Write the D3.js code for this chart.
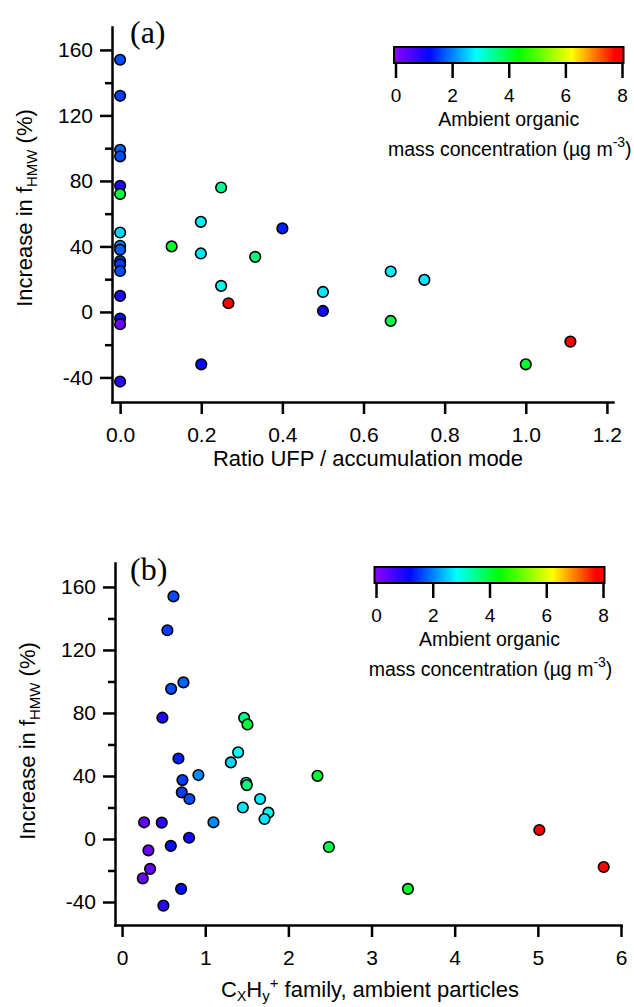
<!DOCTYPE html>
<html>
<head>
<meta charset="utf-8">
<script src="https://cdnjs.cloudflare.com/ajax/libs/d3/7.8.5/d3.min.js"></script>
<style>
  body { margin: 0; background: #fff; }
  svg text { font-family: Arial, "Liberation Sans", sans-serif; fill: #000; }
  .axis path, .axis line { stroke: #000; stroke-width: 2.5; }
</style>
</head>
<body>
<div id="chart"></div>
<script>
// Panel (a): ratio UFP / accumulation mode vs increase in f_HMW
var ufpRatioA = [0, 0, 0, 0, 0, 0, 0, 0, 0, 0, 0, 0, 0, 0, 0, 0,
                 0.249, 0.199, 0.4, 0.127, 0.199, 0.333, 0.249, 0.267, 0.2,
                 0.5, 0.5, 0.667, 0.75, 0.667, 1.0, 1.11];
var increaseA = [154, 132, 99, 95, 77, 72, 48.5, 40.4, 38, 31, 29, 25, 9.8, -4, -7.5, -42.5,
                 76, 55, 51, 40, 35.7, 33.6, 15.9, 5.3, -32,
                 12.2, 0.6, 24.7, 19.6, -5.5, -32, -18.1];
var organicA = [1.7, 1.6, 1.85, 1.7, 1.0, 4.0, 2.6, 2.1, 1.8, 1.6, 1.6, 1.7, 1.0, 1.3, 0.3, 0.9,
                3.5, 2.75, 1.4, 4.1, 2.7, 3.6, 3.0, 7.9, 1.2,
                2.7, 1.1, 2.75, 2.7, 3.9, 4.1, 7.9];

// Panel (b): CxHy+ family vs increase in f_HMW
var cxhyB = [0.618, 0.545, 0.738, 0.59, 0.485, 1.468, 1.508, 0.678, 0.918, 0.726, 0.718, 0.81,
             0.265, 0.477, 1.099, 0.806, 0.586, 0.317, 0.337, 0.249, 0.71, 0.497,
             1.396, 1.308, 1.492, 1.5, 1.66, 1.452, 1.76, 1.713,
             2.35, 2.487, 3.438, 5.018, 5.792];
var increaseB = [154, 132.5, 99.4, 95.3, 77, 76.9, 72.7, 51.1, 40.6, 37.4, 29.6, 25.4,
                 10.6, 10.4, 10.6, 0.8, -4.4, -7.2, -19, -25, -31.7, -42.3,
                 55, 48.6, 35.7, 34.2, 25.4, 20, 16.7, 12.7,
                 40.1, -5.1, -31.7, 5.7, -17.8];
var organicB = [1.7, 1.6, 1.85, 1.7, 1.0, 3.5, 4.0, 1.4, 2.1, 1.6, 1.6, 1.7,
                0.35, 0.9, 2.1, 1.1, 1.3, 0.3, 0.35, 0.3, 1.2, 0.9,
                2.85, 2.6, 2.75, 3.6, 2.75, 2.7, 3.0, 2.7,
                4.1, 3.9, 4.1, 7.9, 7.9];

// tick values
var yMajorTicks = [-40, 0, 40, 80, 120, 160];
var yMinorTicks = [-20, 20, 60, 100, 140];
var xTicksA = [0, 0.2, 0.4, 0.6, 0.8, 1.0, 1.2];
var xTicksB = [0, 1, 2, 3, 4, 5, 6];
var colorTicks = [0, 2, 4, 6, 8];

// rainbow colour table (violet -> red)
var colorStops = [0, 1.25, 2.85, 4.35, 6.2, 7.7, 8];
var colorValues = ["#8f00ff", "#0008ff", "#00ffff", "#00ff00", "#ffff00", "#ff0000", "#ff0000"];
var color = d3.scaleLinear().domain(colorStops).range(colorValues).clamp(true);

var svg = d3.select("#chart").append("svg")
    .attr("width", 634)
    .attr("height", 1007);

var defs = svg.append("defs");
var grad = defs.append("linearGradient")
    .attr("id", "rainbow")
    .attr("x1", "0%").attr("x2", "100%").attr("y1", "0%").attr("y2", "0%");
grad.selectAll("stop")
    .data(colorStops)
  .enter().append("stop")
    .attr("offset", function (d) { return (d / 8 * 100) + "%"; })
    .attr("stop-color", function (d) { return color(d); });

// plain hyphen for negatives, as in the original figure
function hyphenFormat(fmt) {
  return function (d) { return fmt(d).replace("\u2212", "-"); };
}

function panel(opts) {
  var xScale = d3.scaleLinear().domain(opts.xDomain).range(opts.xRange),
      yScale = d3.scaleLinear().domain(opts.yDomain).range(opts.yRange),
      xAxisY = opts.yRange[0],
      yAxisX = opts.xRange[0];

  var g = svg.append("g");

  // minor y ticks
  g.append("g")
      .attr("class", "axis")
      .attr("transform", "translate(" + yAxisX + ",0)")
      .call(d3.axisLeft(yScale).tickValues(yMinorTicks).tickSize(7).tickFormat(""))
      .call(function (s) { s.select(".domain").remove(); });

  var yAxis = g.append("g")
      .attr("class", "axis")
      .attr("transform", "translate(" + yAxisX + ",0)")
      .call(d3.axisLeft(yScale).tickValues(yMajorTicks).tickSize(12).tickSizeOuter(0).tickPadding(7)
              .tickFormat(hyphenFormat(d3.format("d"))));
  yAxis.selectAll("text").style("font-size", "21px");

  var xAxis = g.append("g")
      .attr("class", "axis")
      .attr("transform", "translate(0," + xAxisY + ")")
      .call(d3.axisBottom(xScale).tickValues(opts.xTicks).tickSize(12).tickSizeOuter(0)
              .tickFormat(opts.xFormat));
  xAxis.selectAll("text")
      .style("font-size", "21px")
      .attr("y", 40)
      .attr("dy", 0);
  xAxis.select(".domain").attr("stroke-linecap", "square");
  yAxis.select(".domain").attr("stroke-linecap", "square");

  // points
  g.append("g").selectAll("circle")
      .data(opts.xs)
    .enter().append("circle")
      .attr("cx", function (d) { return xScale(d); })
      .attr("cy", function (d, i) { return yScale(opts.ys[i]); })
      .attr("r", 5.3)
      .attr("fill", function (d, i) { return color(opts.cs[i]); })
      .attr("stroke", "#000")
      .attr("stroke-width", 1.6);

  // panel label
  g.append("text")
      .attr("x", opts.label[1])
      .attr("y", opts.label[2])
      .style("font-family", "'Liberation Serif', 'Times New Roman', serif")
      .style("font-size", "32px")
      .text(opts.label[0]);

  // y title
  var yt = g.append("text")
      .attr("transform", "translate(" + opts.yTitle[0] + "," + opts.yTitle[1] + ") rotate(-90)")
      .style("text-anchor", "middle")
      .style("font-size", "22px");
  yt.append("tspan").text("Increase in f");
  yt.append("tspan").attr("dy", 5).style("font-size", "15px").text("HMW");
  yt.append("tspan").attr("dy", -5).text(" (%)");

  // x title
  var xt = g.append("text")
      .attr("x", opts.xTitle[0])
      .attr("y", opts.xTitle[1])
      .style("text-anchor", "middle")
      .style("font-size", "22px");
  opts.xTitleParts.forEach(function (p) {
    var t = xt.append("tspan").text(p.t);
    if (p.dy) t.attr("dy", p.dy);
    if (p.s) t.style("font-size", p.s + "px");
  });

  // colour bar
  var cb = opts.cbar;
  var cScale = d3.scaleLinear().domain([0, 8]).range([cb.x0, cb.x1]);
  var cg = g.append("g");
  cg.append("rect")
      .attr("x", cb.x0 - 1.5)
      .attr("y", cb.y)
      .attr("width", cb.x1 - cb.x0 + 3)
      .attr("height", 16)
      .attr("fill", "url(#rainbow)")
      .attr("stroke", "#000")
      .attr("stroke-width", 2);
  var cAxis = cg.append("g")
      .attr("class", "axis")
      .attr("transform", "translate(0," + (cb.y + 16) + ")")
      .call(d3.axisBottom(cScale).tickValues(colorTicks).tickSize(15).tickSizeOuter(0));
  cAxis.select(".domain").remove();
  cAxis.selectAll("text")
      .style("font-size", "19px")
      .attr("y", 39)
      .attr("dy", 0);

  var cx = (cb.x0 + cb.x1) / 2;
  cg.append("text")
      .attr("x", cx)
      .attr("y", cb.y + 79)
      .style("text-anchor", "middle")
      .style("font-size", "19.5px")
      .text("Ambient organic");
  var ct = cg.append("text")
      .attr("x", cx + 1)
      .attr("y", cb.y + 109)
      .style("text-anchor", "middle")
      .style("font-size", "19.5px");
  ct.append("tspan").text("mass concentration (µg m");
  ct.append("tspan").attr("dy", -9).style("font-size", "14px").text("-3");
  ct.append("tspan").attr("dy", 9).text(")");
}

panel({
  xs: ufpRatioA, ys: increaseA, cs: organicA,
  xDomain: [-0.02, 1.215], xRange: [112, 613],
  yDomain: [-55, 174], yRange: [402, 27],
  xTicks: xTicksA, xFormat: d3.format(".1f"),
  label: ["(a)", 130, 43],
  yTitle: [32, 208],
  xTitle: [368, 466],
  xTitleParts: [{t: "Ratio UFP / accumulation mode"}],
  cbar: {x0: 395.5, x1: 622, y: 47}
});

panel({
  xs: cxhyB, ys: increaseB, cs: organicB,
  xDomain: [-0.085, 6], xRange: [115, 621],
  yDomain: [-54.6, 175.2], yRange: [925, 563],
  xTicks: xTicksB, xFormat: d3.format("d"),
  label: ["(b)", 130, 580],
  yTitle: [35, 741],
  xTitle: [370, 997],
  xTitleParts: [
    {t: "C"}, {t: "X", dy: 4, s: 14}, {t: "H", dy: -4}, {t: "y", dy: 4, s: 15},
    {t: "+", dy: -13, s: 15}, {t: " family, ambient particles", dy: 9}
  ],
  cbar: {x0: 376, x1: 603, y: 567}
});
</script>
</body>
</html>
